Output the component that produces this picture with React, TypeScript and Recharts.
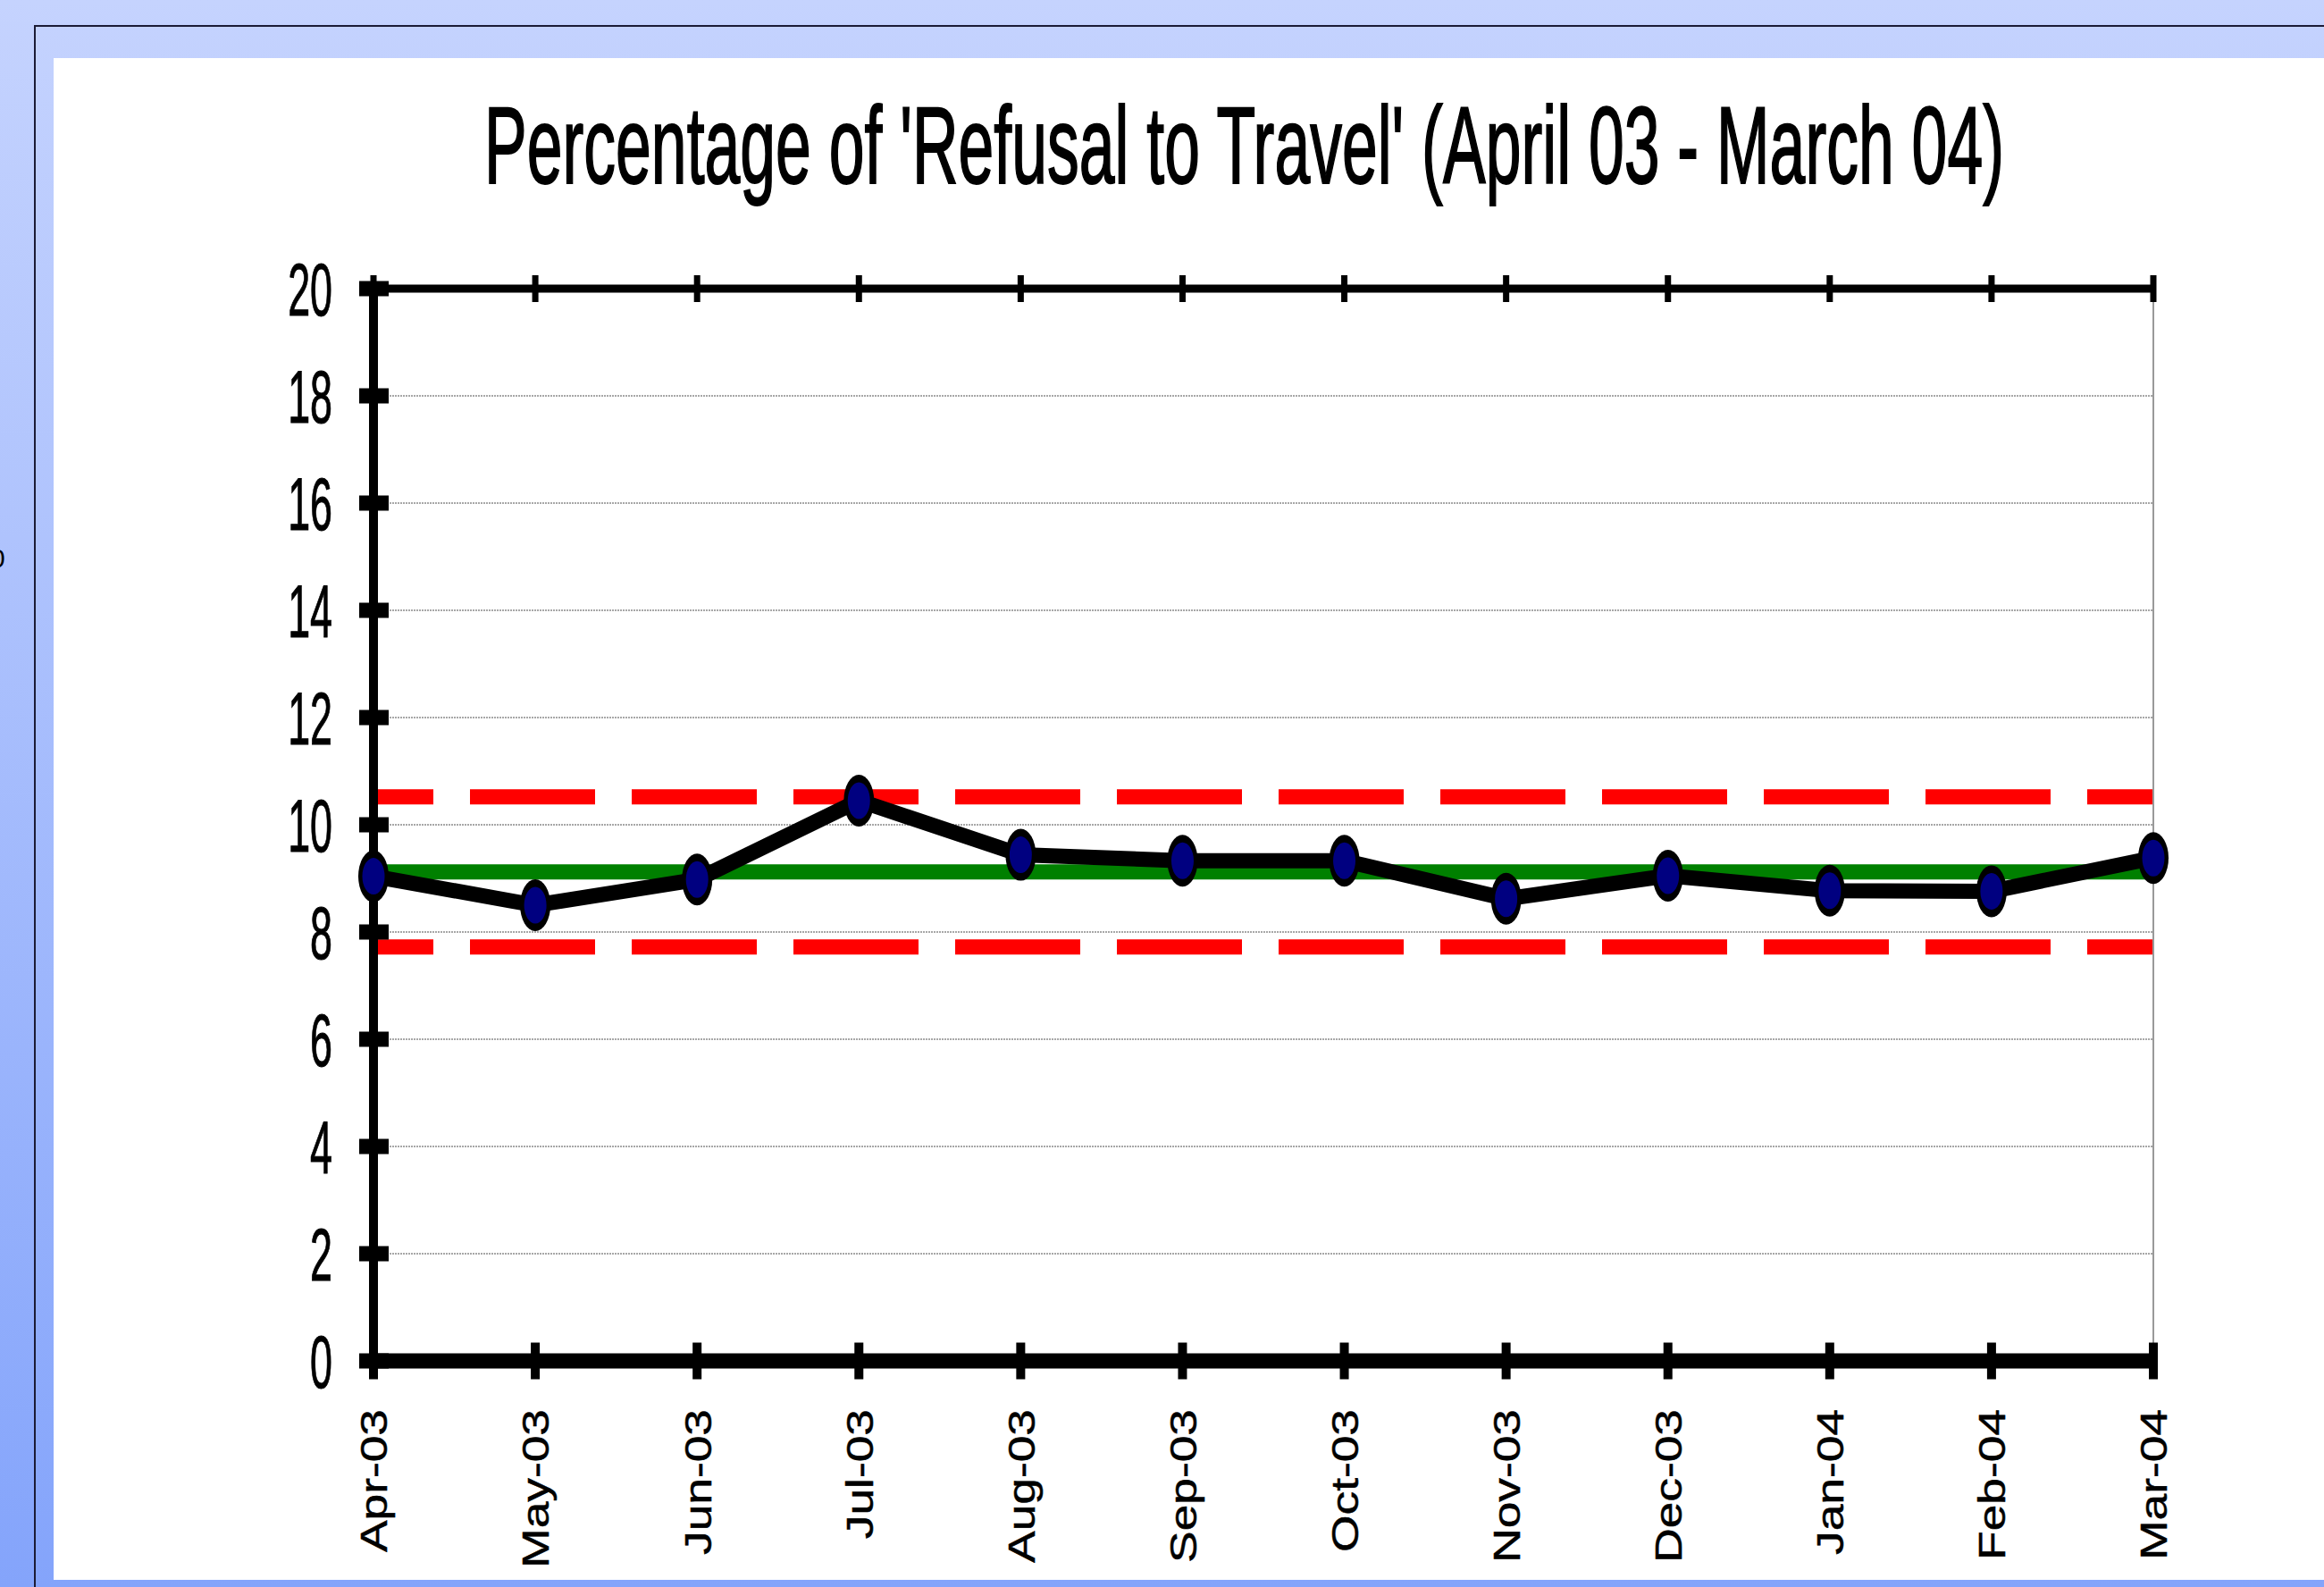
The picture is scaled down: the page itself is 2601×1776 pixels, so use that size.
import React from 'react';
import { LineChart, Line, XAxis, YAxis, CartesianGrid, ReferenceLine } from 'recharts';

const months = ['Apr-03', 'May-03', 'Jun-03', 'Jul-03', 'Aug-03', 'Sep-03', 'Oct-03', 'Nov-03', 'Dec-03', 'Jan-04', 'Feb-04', 'Mar-04'];
const refusalPct = [9.04, 8.5, 8.98, 10.45, 9.44, 9.33, 9.33, 8.62, 9.05, 8.77, 8.76, 9.38];
const meanValue = 9.12;
const upperLimit = 10.52;
const lowerLimit = 7.72;
const yTicks = [0, 2, 4, 6, 8, 10, 12, 14, 16, 18, 20];
const rightTicks = [0, 20];
const title = "Percentage of 'Refusal to Travel' (April 03 - March 04)";

const data = months.map((m, i) => ({ month: m, pct: refusalPct[i] }));

const FONT = "'Liberation Sans', Arial, Helvetica, sans-serif";

const YTick = (props: any) => {
  const { x, y, payload } = props;
  return (
    <g>
      <rect x={x - 16} y={y - 8.5} width={33} height={17} fill="#000" />
      <g transform={`translate(${x - 46}, ${y}) scale(0.54, 1)`}>
        <text
          x={0}
          y={0}
          dy="0.358em"
          textAnchor="end"
          fontSize={83}
          fontFamily={FONT}
          fill="#000"
          stroke="#000"
          strokeWidth={1}
        >
          {payload.value}
        </text>
      </g>
    </g>
  );
};

const XTick = (props: any) => {
  const { x, y, payload } = props;
  return (
    <g>
      <rect x={x - 5} y={y - 20.5} width={10} height={41} fill="#000" />
      <g transform={`translate(${x}, ${y + 54}) rotate(-90) scale(1.24, 1)`}>
        <text
          x={0}
          y={0}
          dy="0.358em"
          textAnchor="end"
          fontSize={43}
          fontFamily={FONT}
          fill="#000"
          stroke="#000"
          strokeWidth={0.5}
        >
          {payload.value}
        </text>
      </g>
    </g>
  );
};

const TopTick = (props: any) => {
  const { x, y } = props;
  return <rect x={x - 3.5} y={y - 15} width={7} height={30} fill="#000" />;
};

const EmptyTick = () => <g />;

const Marker = (props: any) => {
  const { cx, cy, index } = props;
  if (cx == null || cy == null) return <g key={`m-${index}`} />;
  return (
    <g key={`m-${index}`}>
      <ellipse cx={cx} cy={cy} rx={17} ry={29} fill="#000" />
      <ellipse cx={cx} cy={cy} rx={12.5} ry={20.5} fill="#000080" />
    </g>
  );
};

export default function App() {
  return (
    <div
      style={{
        position: 'absolute',
        left: 0,
        top: 0,
        width: 2601,
        height: 1776,
        overflow: 'hidden',
        background: 'linear-gradient(to bottom, #c5d3fe 0%, #84a4fb 100%)',
      }}
    >
      <div
        style={{
          position: 'absolute',
          left: 38,
          top: 28,
          width: 2601 - 38,
          height: 1776 - 28,
          borderLeft: '2.5px solid #1b1b35',
          borderTop: '2.5px solid #1b1b35',
          boxSizing: 'border-box',
        }}
      />
      <div style={{ position: 'absolute', left: 60, top: 65, width: 2541, height: 1703, background: '#fff' }} />
      <svg width={60} height={1776} style={{ position: 'absolute', left: 0, top: 0 }}>
        <text x={-11} y={635} fontSize={30} fontFamily={FONT} fill="#000">0</text>
      </svg>
      <div style={{ position: 'absolute', left: 0, top: 0 }}>
        <LineChart width={2601} height={1776} data={data} margin={{ top: 313, right: 181, bottom: 193, left: 358 }}>
          <CartesianGrid horizontal vertical={false} stroke="#8a8a8a" strokeWidth={1.5} strokeDasharray="2 1" />
          <ReferenceLine y={meanValue} stroke="#008000" strokeWidth={17} />
          <ReferenceLine y={upperLimit} stroke="#ff0000" strokeWidth={17} strokeDasharray="140 41" strokeDashoffset={73} />
          <ReferenceLine y={lowerLimit} stroke="#ff0000" strokeWidth={17} strokeDasharray="140 41" strokeDashoffset={73} />
          <YAxis
            yAxisId="right"
            orientation="right"
            width={10}
            type="number"
            domain={[0, 20]}
            ticks={rightTicks}
            axisLine={{ stroke: '#999', strokeWidth: 2 }}
            tickLine={{ stroke: '#000', strokeWidth: 1.5 }}
            tickSize={14}
            tick={EmptyTick}
          />
          <XAxis
            xAxisId="top"
            orientation="top"
            dataKey="month"
            scale="point"
            height={10}
            axisLine={{ stroke: '#000', strokeWidth: 9 }}
            tickLine={false}
            tickSize={0}
            tickMargin={0}
            tick={TopTick}
            interval={0}
          />
          <XAxis
            dataKey="month"
            scale="point"
            height={60}
            axisLine={{ stroke: '#000', strokeWidth: 17 }}
            tickLine={false}
            tickSize={0}
            tickMargin={0}
            tick={XTick}
            interval={0}
          />
          <YAxis
            type="number"
            width={60}
            domain={[0, 20]}
            ticks={yTicks}
            interval={0}
            axisLine={{ stroke: '#000', strokeWidth: 10 }}
            tickLine={false}
            tickSize={0}
            tickMargin={0}
            tick={YTick}
          />
          <Line
            type="linear"
            dataKey="pct"
            stroke="#000"
            strokeWidth={17}
            dot={Marker}
            activeDot={false}
            isAnimationActive={false}
          />
        </LineChart>
      </div>
      <svg width={2601} height={300} style={{ position: 'absolute', left: 0, top: 0, pointerEvents: 'none' }}>
        <text
          x={542}
          y={205}
          fontSize={123}
          textLength={1701}
          lengthAdjust="spacingAndGlyphs"
          fontFamily={FONT}
          fill="#000"
          stroke="#000"
          strokeWidth={2}
        >
          {title}
        </text>
      </svg>
    </div>
  );
}
